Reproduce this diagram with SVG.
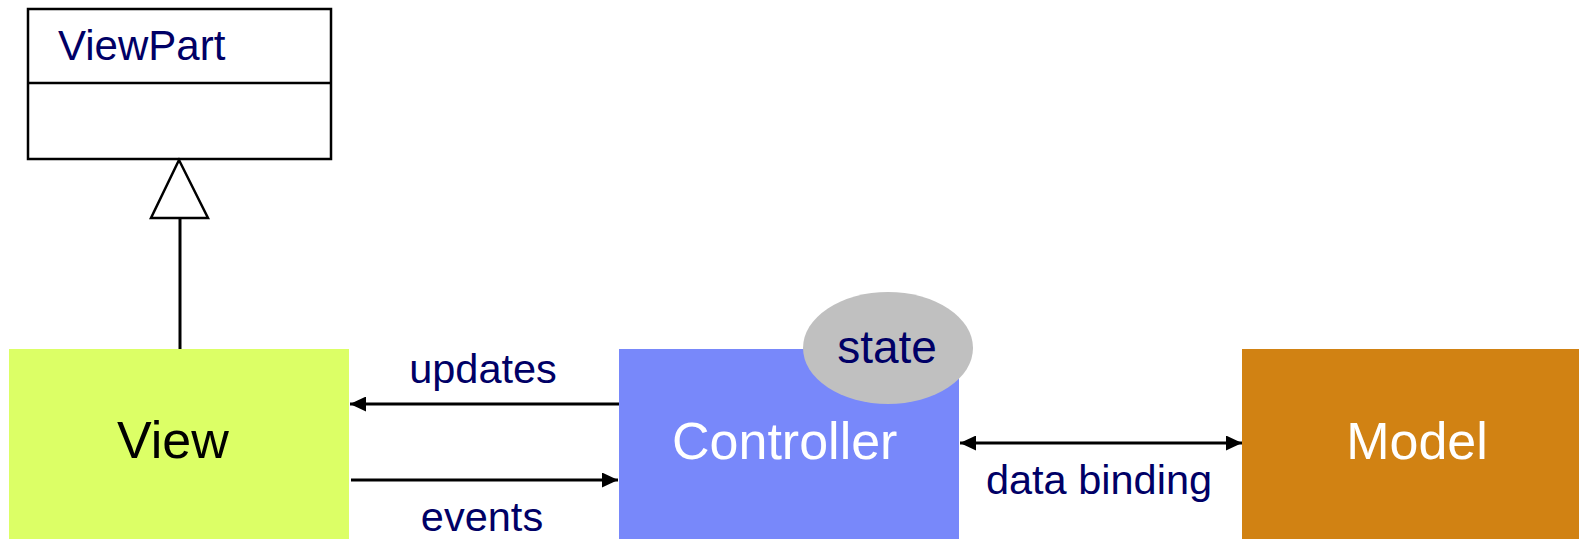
<svg xmlns="http://www.w3.org/2000/svg" width="1579" height="539" viewBox="0 0 1579 539">
  <style>
    .lbl { font-family: "Liberation Sans", Arial, sans-serif; fill: #000066; }
    .big { font-family: "Liberation Sans", Arial, sans-serif; font-size: 52px; }
    .conn { stroke: #000000; stroke-width: 3; fill: none; }
  </style>
  <defs>
    <marker id="ah" viewBox="0 0 16 15" refX="16" refY="7.5" markerWidth="16" markerHeight="15" markerUnits="userSpaceOnUse" orient="auto-start-reverse">
      <path d="M0,0 L16,7.5 L0,15 Z" fill="#000000"/>
    </marker>
  </defs>
  <rect width="1579" height="539" fill="#ffffff"/>

  <g id="viewpart">
    <rect x="28" y="9" width="303" height="150" fill="#ffffff" stroke="#000000" stroke-width="2.5"/>
    <line x1="28" y1="83" x2="331" y2="83" stroke="#000000" stroke-width="2.5"/>
    <text class="lbl" x="58" y="60" font-size="42">ViewPart</text>
  </g>

  <g id="view">
    <rect x="9" y="349" width="340" height="200" fill="#dcff66"/>
    <text class="big" x="117" y="458" fill="#000000">View</text>
  </g>

  <g id="controller">
    <rect x="619" y="349" width="340" height="200" fill="#7888fa"/>
    <text class="big" x="672" y="459" fill="#ffffff">Controller</text>
  </g>

  <g id="state">
    <ellipse cx="888" cy="348" rx="85" ry="56" fill="#c0c0c0"/>
    <text class="lbl" x="887" y="363" font-size="46" text-anchor="middle">state</text>
  </g>

  <g id="model">
    <rect x="1242" y="349" width="345" height="200" fill="#d18213"/>
    <text class="big" x="1417" y="459" fill="#ffffff" text-anchor="middle">Model</text>
  </g>

  <g id="connectors">
    <line class="conn" x1="180" y1="218" x2="180" y2="349"/>
    <polygon points="179,160 151,218 208,218" fill="#ffffff" stroke="#000000" stroke-width="2.5" stroke-linejoin="miter"/>
    <line class="conn" x1="619" y1="404" x2="350" y2="404" marker-end="url(#ah)"/>
    <line class="conn" x1="351" y1="480" x2="618" y2="480" marker-end="url(#ah)"/>
    <line class="conn" x1="960" y1="443" x2="1242" y2="443" marker-start="url(#ah)" marker-end="url(#ah)"/>
  </g>

  <g id="labels">
    <text class="lbl" x="483" y="383" font-size="41.5" text-anchor="middle">updates</text>
    <text class="lbl" x="482" y="531" font-size="41.5" text-anchor="middle">events</text>
    <text class="lbl" x="1099" y="494" font-size="41.5" text-anchor="middle">data binding</text>
  </g>
</svg>
